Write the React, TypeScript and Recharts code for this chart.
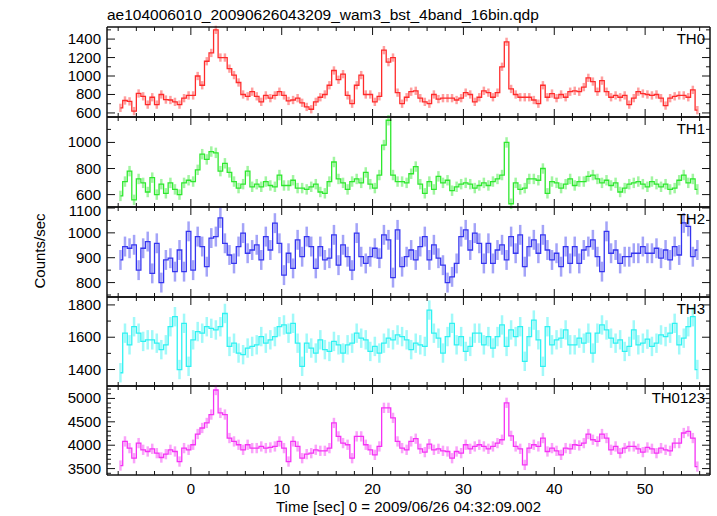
import React from "react";
import { LineChart, Line, XAxis, YAxis, ErrorBar } from "recharts";

const TITLE = "ae104006010_20090626043209_wam3_bst_4band_16bin.qdp";
const X_LABEL = "Time [sec] 0 = 2009/06/26 04:32:09.002";
const Y_LABEL = "Counts/sec";

// bin centres (sec)
const TIME = [
  -7.75, -7.25, -6.75, -6.25, -5.75, -5.25, -4.75, -4.25, -3.75, -3.25, -2.75, -2.25, -1.75, -1.25, -0.75, -0.25,
  0.25, 0.75, 1.25, 1.75, 2.25, 2.75, 3.25, 3.75, 4.25, 4.75, 5.25, 5.75, 6.25, 6.75, 7.25, 7.75,
  8.25, 8.75, 9.25, 9.75, 10.25, 10.75, 11.25, 11.75, 12.25, 12.75, 13.25, 13.75, 14.25, 14.75, 15.25, 15.75,
  16.25, 16.75, 17.25, 17.75, 18.25, 18.75, 19.25, 19.75, 20.25, 20.75, 21.25, 21.75, 22.25, 22.75, 23.25, 23.75,
  24.25, 24.75, 25.25, 25.75, 26.25, 26.75, 27.25, 27.75, 28.25, 28.75, 29.25, 29.75, 30.25, 30.75, 31.25, 31.75,
  32.25, 32.75, 33.25, 33.75, 34.25, 34.75, 35.25, 35.75, 36.25, 36.75, 37.25, 37.75, 38.25, 38.75, 39.25, 39.75,
  40.25, 40.75, 41.25, 41.75, 42.25, 42.75, 43.25, 43.75, 44.25, 44.75, 45.25, 45.75, 46.25, 46.75, 47.25, 47.75,
  48.25, 48.75, 49.25, 49.75, 50.25, 50.75, 51.25, 51.75, 52.25, 52.75, 53.25, 53.75, 54.25, 54.75, 55.25, 55.75,
];

const TH0 = [
  655, 735, 725, 620, 811, 780, 690, 770, 690, 800, 745, 740, 720, 690, 760, 790,
  790, 1000, 900, 1160, 1250, 1500, 1200, 1200, 1080, 1010, 930, 800, 780, 830, 780, 720,
  790, 760, 790, 830, 790, 730, 740, 760, 710, 665, 640, 720, 770, 800, 900, 1060,
  960, 1020, 790, 700, 900, 1010, 800, 800, 720, 780, 1280, 1150, 1200, 820, 700, 770,
  830, 840, 760, 720, 700, 800, 750, 760, 760, 760, 740, 760, 820, 800, 720, 770,
  840, 820, 770, 820, 1100, 1370, 860, 800, 770, 770, 770, 740, 700, 900, 770, 810,
  760, 800, 770, 830, 840, 830, 880, 980, 940, 830, 950, 830, 770, 790, 770, 790,
  690, 760, 830, 810, 800, 790, 800, 760, 680, 760, 780, 790, 790, 770, 850, 630,
];

const TH1 = [
  590, 700, 780, 560, 720, 690, 620, 730, 600, 680, 610, 690, 640, 600, 690, 710,
  700, 790, 910, 870, 930, 920, 780, 840, 770, 700, 650, 680, 780, 660, 680, 660,
  700, 670, 660, 750, 670, 670, 710, 650, 650, 640, 660, 680, 620, 610, 700, 850,
  720, 690, 640, 700, 720, 690, 770, 680, 650, 750, 980, 1170, 750, 700, 700, 690,
  760, 815, 680, 610, 700, 640, 740, 690, 710, 630, 660, 680, 690, 680, 650, 670,
  690, 670, 700, 720, 750, 1000, 530, 690, 640, 650, 720, 720, 710, 800, 610, 700,
  690, 650, 680, 720, 670, 700, 700, 740, 750, 720, 690, 710, 670, 690, 620, 650,
  680, 690, 700, 680, 660, 700, 680, 660, 680, 640, 650, 710, 750, 690, 720, 640,
];

const TH2 = [
  891, 945, 938, 952, 850, 938, 965, 837, 958, 800, 891, 898, 844, 931, 844, 1006,
  850, 985, 945, 864, 979, 985, 1060, 958, 911, 877, 945, 999, 918, 931, 952, 891,
  985, 931, 1039, 958, 830, 918, 857, 972, 904, 985, 945, 857, 945, 891, 898, 992,
  870, 952, 904, 850, 999, 904, 877, 904, 938, 898, 992, 972, 820, 1012, 864, 904,
  931, 891, 945, 985, 891, 952, 898, 870, 800, 823, 877, 985, 1012, 931, 999, 958,
  877, 958, 877, 931, 952, 891, 985, 918, 992, 864, 945, 972, 918, 992, 931, 891,
  918, 864, 945, 877, 945, 877, 931, 945, 972, 904, 844, 1006, 918, 931, 877, 904,
  904, 918, 918, 945, 918, 918, 938, 898, 931, 891, 945, 911, 1040, 1026, 904, 931,
];

const TH3 = [
  1380, 1625, 1553, 1665, 1625, 1574, 1584, 1584, 1563, 1523, 1553, 1665, 1727, 1400, 1686, 1420,
  1584, 1635, 1625, 1665, 1655, 1645, 1665, 1747, 1543, 1563, 1502, 1492, 1533, 1543, 1553, 1604,
  1563, 1584, 1604, 1665, 1676, 1625, 1686, 1563, 1420, 1563, 1533, 1502, 1584, 1523, 1512, 1574,
  1553, 1502, 1553, 1563, 1625, 1594, 1584, 1512, 1543, 1502, 1563, 1594, 1584, 1614, 1604, 1584,
  1523, 1563, 1553, 1543, 1768, 1625, 1594, 1502, 1604, 1686, 1553, 1604, 1512, 1543, 1625, 1625,
  1553, 1604, 1533, 1604, 1676, 1543, 1645, 1604, 1665, 1451, 1604, 1706, 1584, 1420, 1665, 1553,
  1584, 1594, 1645, 1553, 1553, 1594, 1563, 1625, 1502, 1625, 1676, 1645, 1594, 1563, 1584, 1512,
  1543, 1645, 1553, 1563, 1588, 1543, 1563, 1614, 1604, 1625, 1686, 1553, 1594, 1665, 1727, 1400,
];

const TH0123 = [
  3565, 4081, 3938, 3722, 4045, 3902, 3866, 3923, 3830, 3737, 3809, 3902, 3866, 3651, 3938, 3902,
  4010, 4239, 4368, 4476, 4656, 5180, 4691, 4656, 4153, 4081, 4010, 3902, 4010, 3938, 3938, 3974,
  3938, 3952, 3974, 4081, 3938, 3651, 4081, 3974, 3722, 3809, 3830, 3902, 3880, 3880, 3938, 4476,
  4189, 4045, 4010, 3722, 4189, 4189, 4010, 3902, 3794, 3974, 4799, 4799, 4584, 4081, 3938, 3902,
  4081, 4139, 3923, 3852, 4024, 3902, 3923, 3880, 3866, 3722, 3866, 3830, 4010, 3923, 3974, 4010,
  3974, 3923, 3974, 4045, 4117, 4907, 4200, 3974, 3923, 3579, 3938, 4010, 3974, 4153, 3866, 3938,
  3880, 3794, 3938, 3923, 4010, 3995, 4045, 4239, 4117, 4081, 4239, 4153, 3902, 3974, 3830, 3938,
  3974, 3974, 3923, 3852, 3952, 3923, 3830, 3938, 3902, 3880, 4045, 4045, 4261, 4297, 4153, 3543,
];

// typical 1-sigma error per panel
const TH0_ERR = 45;
const TH1_ERR = 40;
const TH2_ERR = 40;
const TH3_ERR = 60;
const TH0123_ERR = 110;

const TIME_TICKS = [-8, -6, -4, -2, 0, 2, 4, 6, 8, 10, 12, 14, 16, 18, 20, 22, 24, 26, 28, 30, 32, 34, 36, 38, 40, 42, 44, 46, 48, 50, 52, 54, 56];
const TIME_LABELS = [0, 10, 20, 30, 40, 50];

const TH0_TICKS = [600, 700, 800, 900, 1000, 1100, 1200, 1300, 1400, 1500];
const TH0_LABELS = [600, 800, 1000, 1200, 1400];
const TH1_TICKS = [600, 700, 800, 900, 1000, 1100];
const TH1_LABELS = [600, 800, 1000];
const TH2_TICKS = [750, 800, 850, 900, 950, 1000, 1050, 1100];
const TH2_LABELS = [800, 900, 1000, 1100];
const TH3_TICKS = [1400, 1500, 1600, 1700, 1800];
const TH3_LABELS = [1400, 1600, 1800];
const TH0123_TICKS = [3400, 3500, 3600, 3700, 3800, 3900, 4000, 4100, 4200, 4300, 4400, 4500, 4600, 4700, 4800, 4900, 5000, 5100, 5200];
const TH0123_LABELS = [3500, 4000, 4500, 5000];

const FONT = '"Liberation Sans", Arial, Helvetica, sans-serif';
const FRAME = "#111";
const W = 717;
const PLOT_LEFT = 107;
const PLOT_RIGHT = 710;
const X_DOMAIN: [number, number] = [-9.23, 57.14];

const panels = [
  { name: "TH0", values: TH0, err: TH0_ERR, domain: [556, 1531], ticks: TH0_TICKS, labels: TH0_LABELS, color: "#ff2b2b", top: 27, bottom: 117 },
  { name: "TH1", values: TH1, err: TH1_ERR, domain: [505, 1195], ticks: TH1_TICKS, labels: TH1_LABELS, color: "#2ee82e", top: 117, bottom: 207 },
  { name: "TH2", values: TH2, err: TH2_ERR, domain: [742, 1104], ticks: TH2_TICKS, labels: TH2_LABELS, color: "#3535f0", top: 207, bottom: 297 },
  { name: "TH3", values: TH3, err: TH3_ERR, domain: [1298, 1849], ticks: TH3_TICKS, labels: TH3_LABELS, color: "#2ef2f2", top: 297, bottom: 386 },
  { name: "TH0123", values: TH0123, err: TH0123_ERR, domain: [3363, 5266], ticks: TH0123_TICKS, labels: TH0123_LABELS, color: "#f532f5", top: 386, bottom: 475 },
];

const tickLen = (major: boolean) => (major ? 8 : 4);
const frameLine = { stroke: FRAME, strokeWidth: 1.5 };

function Panel({ p, last }: { p: (typeof panels)[number]; last: boolean }) {
  const rows = TIME.map((t, i) => ({ t, v: p.values[i], err: p.err }));
  const padTop = 12;
  const padBottom = last ? 40 : 12;
  const h = p.bottom - p.top;
  const plotTop = padTop; // in chart coords

  const leftTick = (props: any) => {
    const { x, y, payload } = props;
    const major = p.labels.includes(payload.value);
    // keep a label sitting on the panel edge from running into the one above
    const ly = Math.max(y, plotTop + 4);
    return (
      <g>
        <line x1={x} x2={x + tickLen(major)} y1={y} y2={y} stroke={FRAME} strokeWidth={1} />
        {major && (
          <text x={x - 6} y={ly + 5} textAnchor="end" fontSize={15} fontFamily={FONT} fill="#000">
            {payload.value}
          </text>
        )}
      </g>
    );
  };
  const rightTick = (props: any) => {
    const { x, y, payload } = props;
    const major = p.labels.includes(payload.value);
    return <line x1={x} x2={x - tickLen(major)} y1={y} y2={y} stroke={FRAME} strokeWidth={1} />;
  };
  const topTick = (props: any) => {
    const { x, y, payload } = props;
    const major = TIME_LABELS.includes(payload.value);
    return <line x1={x} x2={x} y1={y} y2={y + tickLen(major)} stroke={FRAME} strokeWidth={1} />;
  };
  const bottomTick = (props: any) => {
    const { x, y, payload } = props;
    const major = TIME_LABELS.includes(payload.value);
    return (
      <g>
        <line x1={x} x2={x} y1={y} y2={y - tickLen(major)} stroke={FRAME} strokeWidth={1} />
        {last && major && (
          <text x={x} y={y + 19} textAnchor="middle" fontSize={15} fontFamily={FONT} fill="#000">
            {payload.value}
          </text>
        )}
      </g>
    );
  };

  return (
    <div style={{ position: "absolute", left: 0, top: p.top - padTop }}>
      <LineChart
        width={W}
        height={h + padTop + padBottom}
        data={rows}
        margin={{ top: padTop - 1, bottom: padBottom - 1, left: PLOT_LEFT - 60, right: W - PLOT_RIGHT - 1 }}
      >
        <XAxis
          xAxisId="b"
          dataKey="t"
          type="number"
          domain={X_DOMAIN}
          allowDataOverflow
          ticks={TIME_TICKS}
          interval={0}
          height={1}
          tickSize={0}
          tickMargin={0}
          tickLine={false}
          tick={bottomTick}
          axisLine={frameLine}
        />
        <XAxis
          xAxisId="t"
          dataKey="t"
          orientation="top"
          type="number"
          domain={X_DOMAIN}
          allowDataOverflow
          ticks={TIME_TICKS}
          interval={0}
          height={1}
          tickSize={0}
          tickMargin={0}
          tickLine={false}
          tick={topTick}
          axisLine={frameLine}
        />
        <YAxis
          yAxisId="l"
          type="number"
          domain={p.domain}
          allowDataOverflow
          ticks={p.ticks}
          interval={0}
          width={60}
          tickSize={0}
          tickMargin={0}
          tickLine={false}
          tick={leftTick}
          axisLine={frameLine}
        />
        <YAxis
          yAxisId="r"
          orientation="right"
          type="number"
          domain={p.domain}
          allowDataOverflow
          ticks={p.ticks}
          interval={0}
          width={1}
          tickSize={0}
          tickMargin={0}
          tickLine={false}
          tick={rightTick}
          axisLine={frameLine}
        />
        {/* invisible twin so the top / right frame axes have a series bound to them */}
        <Line
          xAxisId="t"
          yAxisId="r"
          dataKey="v"
          stroke="none"
          dot={false}
          activeDot={false}
          legendType="none"
          isAnimationActive={false}
        />
        <Line
          xAxisId="b"
          yAxisId="l"
          type="step"
          dataKey="v"
          stroke={p.color}
          strokeWidth={1.3}
          dot={false}
          isAnimationActive={false}
        >
          <ErrorBar
            dataKey="err"
            direction="y"
            width={0}
            stroke={p.color}
            strokeOpacity={0.45}
            strokeWidth={2.5}
            isAnimationActive={false}
          />
        </Line>
      </LineChart>
    </div>
  );
}

export default function App() {
  return (
    <div style={{ position: "absolute", left: 0, top: 0, width: W, height: 516, background: "#fff", overflow: "hidden" }}>
      {panels.map((p, i) => (
        <Panel key={p.name} p={p} last={i === panels.length - 1} />
      ))}
      <svg width={W} height={516} style={{ position: "absolute", left: 0, top: 0, pointerEvents: "none" }}>
        <text x={PLOT_LEFT} y={20} fontSize={15.5} fontFamily={FONT} fill="#000">
          {TITLE}
        </text>
        {panels.map((p) => (
          <text key={p.name} x={PLOT_RIGHT - 5} y={p.top + 17} textAnchor="end" fontSize={15} fontFamily={FONT} fill="#000">
            {p.name}
          </text>
        ))}
        <text x={(PLOT_LEFT + PLOT_RIGHT) / 2} y={512} textAnchor="middle" fontSize={15} fontFamily={FONT} fill="#000">
          {X_LABEL}
        </text>
        <text
          x={0}
          y={0}
          transform={`translate(45, 251) rotate(-90)`}
          textAnchor="middle"
          fontSize={15}
          fontFamily={FONT}
          fill="#000"
        >
          {Y_LABEL}
        </text>
      </svg>
    </div>
  );
}
